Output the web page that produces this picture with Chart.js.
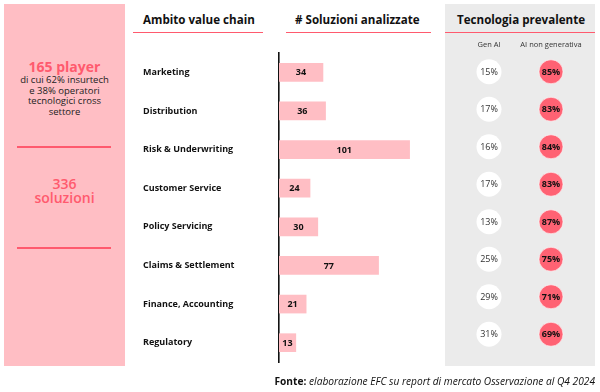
<!DOCTYPE html>
<html>
<head>
<meta charset="utf-8">
<script src="https://cdn.jsdelivr.net/npm/chart.js@4"></script>
<style>
  body { margin: 0; width: 600px; height: 392px; background: #fff; position: relative; overflow: hidden;
         font-family: "Open Sans", sans-serif; color: #111; }
  .abs { position: absolute; }
  .pink { left: 4px; top: 4px; width: 121px; height: 362px; background: #FFBEC4; }
  .grey { left: 445px; top: 4px; width: 150px; height: 362px; background: #EBEBEB; }
  .big { color: #FF5A6E; font-weight: 700; font-size: 14px; line-height: 16px; }
  .small { font-size: 9.5px; line-height: 10.7px; color: #222; }
  .rule { height: 1.5px; background: #FF5A6E; }
  .head { font-weight: 700; font-size: 11.6px; line-height: 16px; top: 12px; white-space: nowrap; }
  .foot { right: 5px; top: 375px; font-size: 10.2px; line-height: 12px; white-space: nowrap; font-style: italic; }
</style>
</head>
<body>
<div class="abs pink"></div>
<div class="abs grey"></div>

<div class="abs" style="left:4px;top:59px;width:121px;text-align:center">
  <div class="big">165 player</div>
  <div class="small">di cui 62% insurtech<br>e 38% operatori<br>tecnologici cross<br>settore</div>
</div>
<div class="abs rule" style="left:17px;top:146px;width:94px"></div>
<div class="abs big" style="left:4px;top:177px;width:121px;text-align:center;font-weight:600;line-height:14px">336<br>soluzioni</div>
<div class="abs rule" style="left:17px;top:247px;width:94px"></div>

<div class="abs head" style="left:143px">Ambito value chain</div>
<div class="abs rule" style="left:133px;top:31.5px;width:130px"></div>
<div class="abs head" style="left:295px"># Soluzioni analizzate</div>
<div class="abs rule" style="left:286px;top:31.5px;width:145px"></div>
<div class="abs head" style="left:457px">Tecnologia prevalente</div>
<div class="abs rule" style="left:445px;top:31.5px;width:150px"></div>

<canvas id="bars" class="abs" style="left:0;top:0" width="440" height="392"></canvas>
<canvas id="tech" class="abs" style="left:445px;top:4px" width="150" height="362"></canvas>

<div class="abs foot"><b style="font-style:normal">Fonte:</b> elaborazione EFC su report di mercato Osservazione al Q4 2024</div>

<script>
// dati
const categories = ['Marketing', 'Distribution', 'Risk & Underwriting', 'Customer Service',
                    'Policy Servicing', 'Claims & Settlement', 'Finance, Accounting', 'Regulatory'];
const solutions = [34, 36, 101, 24, 30, 77, 21, 13];
const techCols = ['Gen AI', 'AI non generativa'];
const genAI = [15, 17, 16, 17, 13, 25, 29, 31];
const nonGenAI = [85, 83, 84, 83, 87, 75, 71, 69];

const FONT = '"Open Sans", sans-serif';
Chart.defaults.font.family = FONT;
Chart.defaults.color = '#111';

// numeri dentro le barre
const barLabels = {
    id: 'barLabels',
    afterDatasetsDraw(chart) {
        const ctx = chart.ctx;
        ctx.save();
        ctx.font = 'bold 9px ' + FONT;
        ctx.fillStyle = '#111';
        ctx.textAlign = 'center';
        ctx.textBaseline = 'middle';
        chart.getDatasetMeta(0).data.forEach((bar, i) => {
            ctx.fillText(solutions[i], (bar.base + bar.x) / 2, bar.y + 0.5);
        });
        ctx.restore();
    }
};

new Chart(document.getElementById('bars'), {
    type: 'bar',
    data: {
        labels: categories,
        datasets: [{
            data: solutions,
            backgroundColor: '#FFBEC4',
            barThickness: 18
        }]
    },
    options: {
        indexAxis: 'y',
        responsive: false,
        animation: false,
        layout: { padding: { left: 143, right: 11, top: 53, bottom: 30 } },
        plugins: { legend: { display: false }, tooltip: { enabled: false } },
        scales: {
            x: { display: false, min: 0, max: 116 },
            y: {
                grid: { display: false },
                border: { display: true, color: '#111', width: 1.6 },
                ticks: { crossAlign: 'far', padding: 0, color: '#111', font: { size: 9, weight: 'bold' } },
                afterFit: s => { s.width = 136; }
            }
        }
    },
    plugins: [barLabels]
});

// percentuali nei cerchi
const circleLabels = {
    id: 'circleLabels',
    afterDatasetsDraw(chart) {
        const ctx = chart.ctx;
        ctx.save();
        ctx.textAlign = 'center';
        ctx.textBaseline = 'middle';
        [genAI, nonGenAI].forEach((vals, d) => {
            ctx.font = (d ? 'bold ' : '') + '9px ' + FONT;
            ctx.fillStyle = d ? '#111' : '#333';
            chart.getDatasetMeta(d).data.forEach((pt, i) => {
                ctx.fillText(vals[i] + '%', pt.x, pt.y + 0.5);
            });
        });
        ctx.restore();
    }
};

new Chart(document.getElementById('tech'), {
    type: 'scatter',
    data: {
        datasets: [{
            label: techCols[0],
            data: genAI.map((v, i) => ({ x: techCols[0], y: categories[i] })),
            pointRadius: 12.5,
            backgroundColor: '#fff',
            borderWidth: 0
        }, {
            label: techCols[1],
            data: nonGenAI.map((v, i) => ({ x: techCols[1], y: categories[i] })),
            pointRadius: 12,
            backgroundColor: '#FF6273',
            borderColor: 'rgba(255,255,255,0.6)',
            borderWidth: 1
        }]
    },
    options: {
        responsive: false,
        animation: false,
        layout: { padding: { left: 11, right: 3, top: 35, bottom: 4 } },
        plugins: { legend: { display: false }, tooltip: { enabled: false } },
        scales: {
            x: {
                type: 'category',
                labels: techCols,
                position: 'top',
                offset: true,
                grid: { display: false, drawTicks: false },
                border: { display: false },
                ticks: { padding: 4, color: '#333', font: { size: 7.5 }, maxRotation: 0, minRotation: 0, autoSkip: false },
                afterFit: s => { s.height = 14; }
            },
            y: { type: 'category', labels: categories, offset: true, display: false }
        }
    },
    plugins: [circleLabels]
});
</script>
</body>
</html>
